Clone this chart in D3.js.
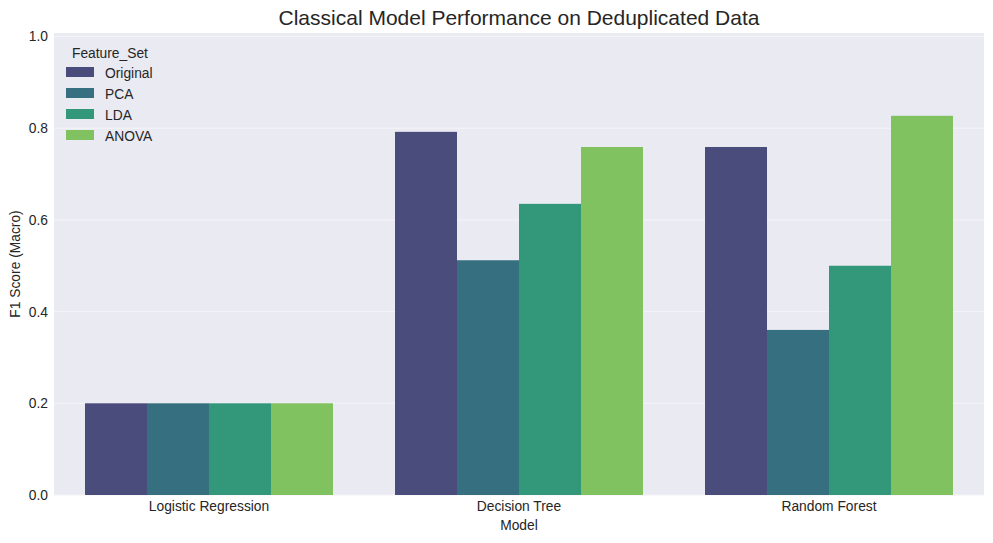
<!DOCTYPE html>
<html><head><meta charset="utf-8">
<script src="https://cdn.jsdelivr.net/npm/d3@7"></script>
<style>body{margin:0;background:#fff}text{font-family:"Liberation Sans",Arial,sans-serif;fill:#262626}</style>
</head><body><svg id="c" width="993" height="543"></svg>
<script>
const models = ["Logistic Regression", "Decision Tree", "Random Forest"];
const featureSets = ["Original", "PCA", "LDA", "ANOVA"];
const colors = ["#4a4c7c", "#367080", "#33977a", "#80c260"];
const original = [0.20, 0.792, 0.759];
const pca = [0.20, 0.512, 0.360];
const lda = [0.20, 0.635, 0.500];
const anova = [0.20, 0.759, 0.827];
const yTicks = [0, 0.2, 0.4, 0.6, 0.8, 1.0];
const series = [original, pca, lda, anova];

const svg = d3.select("#c");
const L = 54, R = 984, T = 33, B = 495;
const FS = "13.8px";
const x = d3.scaleBand().domain(models).range([L, R]).padding(0);
const xi = d3.scaleBand().domain(featureSets).range([0, x.bandwidth() * 0.8]);
const y = d3.scaleLinear().domain([0, 1.0076]).range([B, T]);

svg.append("rect").attr("x", L).attr("y", T).attr("width", R - L).attr("height", B - T).attr("fill", "#eaeaf2");
svg.append("g").selectAll("line").data(yTicks).join("line")
  .attr("x1", L).attr("x2", R).attr("y1", d => y(d)).attr("y2", d => y(d))
  .attr("stroke", "#f4f4f8").attr("stroke-width", 1);

featureSets.forEach((fs, si) => {
  svg.append("g").selectAll("rect").data(models).join("rect")
    .attr("x", (m) => x(m) + x.bandwidth() * 0.1 + xi(fs))
    .attr("width", xi.bandwidth())
    .attr("y", (m, i) => y(series[si][i]))
    .attr("height", (m, i) => B - y(series[si][i]))
    .attr("fill", colors[si]);
});

const yAxis = svg.append("g").attr("transform", `translate(${L},0)`)
  .call(d3.axisLeft(y).tickValues(yTicks).tickFormat(d3.format(".1f")).tickSize(0).tickPadding(6));
yAxis.select(".domain").remove();
yAxis.selectAll("text").style("font-size", FS).attr("fill", "#262626");

const xAxis = svg.append("g").attr("transform", `translate(0,${B})`)
  .call(d3.axisBottom(x).tickSize(0).tickPadding(6));
xAxis.select(".domain").remove();
xAxis.selectAll("text").style("font-size", FS).attr("fill", "#262626");

svg.append("text").attr("x", (L + R) / 2).attr("y", 25).attr("text-anchor", "middle")
  .style("font-size", "21px").text("Classical Model Performance on Deduplicated Data");
svg.append("text").attr("x", (L + R) / 2).attr("y", 530).attr("text-anchor", "middle")
  .style("font-size", FS).text("Model");
svg.append("text").attr("transform", `translate(20,${(T + B) / 2}) rotate(-90)`).attr("text-anchor", "middle")
  .style("font-size", FS).text("F1 Score (Macro)");

const lg = svg.append("g");
lg.append("text").attr("x", 72).attr("y", 58).style("font-size", FS).text("Feature_Set");
featureSets.forEach((fs, i) => {
  lg.append("rect").attr("x", 66).attr("y", 67 + i * 21).attr("width", 28).attr("height", 10).attr("fill", colors[i]);
  lg.append("text").attr("x", 105).attr("y", 77.5 + i * 21).style("font-size", FS).text(fs);
});
</script></body></html>
